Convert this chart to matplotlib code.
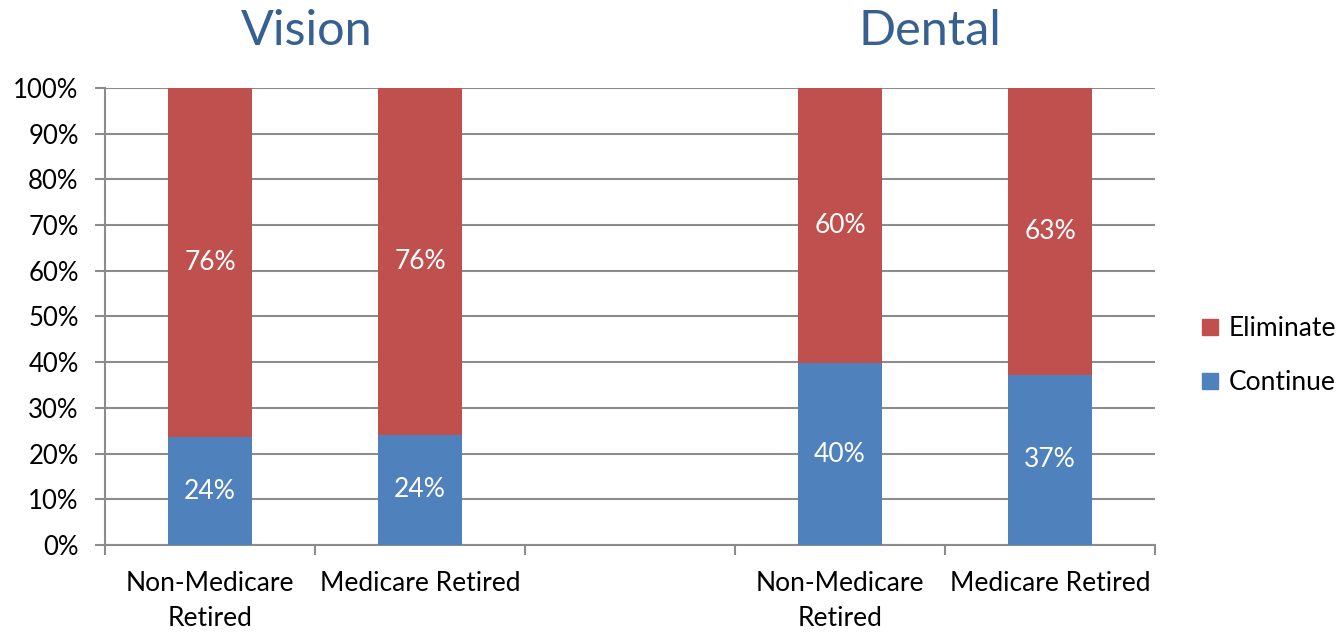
import numpy as np
import matplotlib.pyplot as plt
from matplotlib.patches import Patch

plt.rcParams['font.family'] = ['Lato', 'DejaVu Sans']

# Data
categories = ['Non-Medicare\nRetired', 'Medicare Retired', '', 'Non-Medicare\nRetired', 'Medicare Retired']
continue_vals = [23.6, 24.1, 0, 39.8, 37.2]
eliminate_vals = [76.4, 75.9, 0, 60.2, 62.8]
continue_labels = ['24%', '24%', '', '40%', '37%']
eliminate_labels = ['76%', '76%', '', '60%', '63%']
group_titles = ['Vision', 'Dental']
group_centers = [0.46, 3.43]

red = '#C0504D'
blue = '#4F81BD'
grid_col = '#8C8C8C'

fig = plt.figure(figsize=(13.4, 6.32), dpi=100)
ax = fig.add_axes([0.0784, 0.1377, 0.7836, 0.7231])

x = np.arange(len(categories))
mask = np.array(continue_vals) + np.array(eliminate_vals) > 0
ax.bar(x[mask], np.array(continue_vals)[mask], width=0.4, color=blue, zorder=3)
ax.bar(x[mask], np.array(eliminate_vals)[mask], width=0.4, bottom=np.array(continue_vals)[mask],
       color=red, zorder=3)

for i in x[mask]:
    c = continue_vals[i]
    e = eliminate_vals[i]
    ax.text(i, c / 2, continue_labels[i], ha='center', va='center', color='white', fontsize=19, zorder=4)
    ax.text(i, c + e / 2, eliminate_labels[i], ha='center', va='center', color='white', fontsize=19, zorder=4)

ax.set_xlim(-0.5, 4.5)
ax.set_ylim(0, 100)
ax.set_yticks(np.arange(0, 101, 10))
ax.set_yticklabels([f'{v}%' for v in range(0, 101, 10)], fontsize=18.5)
ax.yaxis.grid(True, color=grid_col, linewidth=1.5, zorder=0)
ax.tick_params(axis='y', length=7, width=1.5, color=grid_col, pad=12)

ax.set_xticks(x)
ax.set_xticklabels(categories, fontsize=19, linespacing=1.5)
ax.set_xticks(np.arange(-0.5, 4.6, 1), minor=True)
ax.tick_params(axis='x', which='major', length=0, pad=19)
ax.tick_params(axis='x', which='minor', length=7, width=1.5, color=grid_col)

for s in ['top', 'right']:
    ax.spines[s].set_visible(False)
for s in ['left', 'bottom']:
    ax.spines[s].set_color(grid_col)
    ax.spines[s].set_linewidth(1.5)

for t, cx in zip(group_titles, group_centers):
    ax.text(cx, 1.0 + 0.125, t, transform=ax.get_xaxis_transform(), ha='center', va='center',
            fontsize=35, color='#376092')

handles = [Patch(color=red), Patch(color=blue)]
fig.legend(handles, ['Eliminate', 'Continue'], loc='center left', bbox_to_anchor=(0.8795, 0.437),
           frameon=False, fontsize=19, handlelength=0.6, handleheight=0.6, handletextpad=0.4,
           labelspacing=1.1)

fig.savefig('out.png', dpi=100)
